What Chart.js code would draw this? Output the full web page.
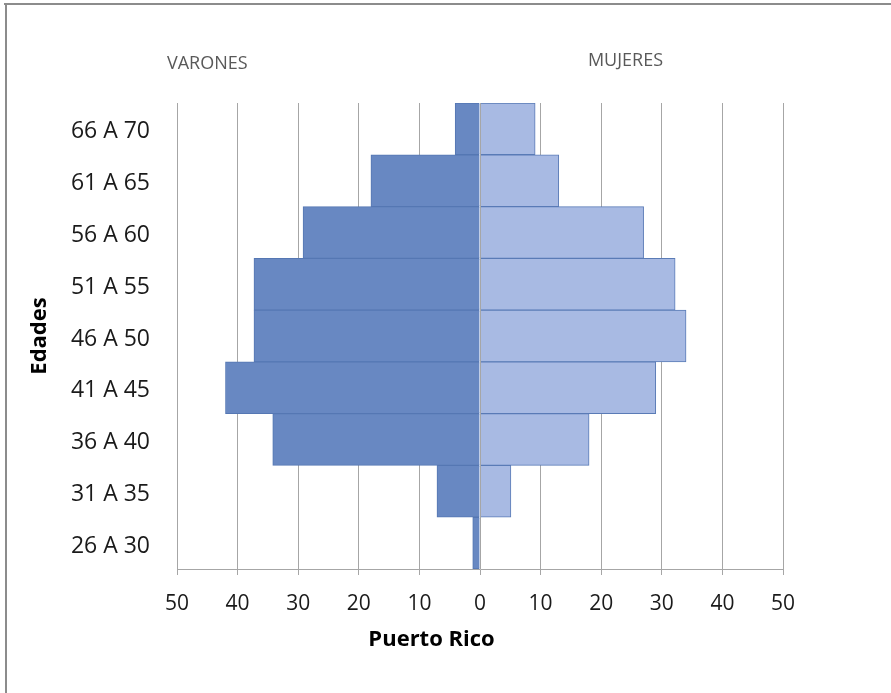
<!DOCTYPE html>
<html>
<head>
<meta charset="utf-8">
<script src="https://cdn.jsdelivr.net/npm/chart.js@4.4.1/dist/chart.umd.min.js"></script>
<style>
  html, body { margin: 0; padding: 0; background: #fff; }
  #wrap { width: 891px; height: 693px; }
</style>
</head>
<body>
<div id="wrap"><canvas id="pyramidChart" width="891" height="693"></canvas></div>
<script>
// age groups, top to bottom
var ageLabels = ["66 A 70", "61 A 65", "56 A 60", "51 A 55", "46 A 50", "41 A 45", "36 A 40", "31 A 35", "26 A 30"];
// varones (drawn to the left, stored as positive counts)
var maleData = [4.1, 18, 29.2, 37.3, 37.3, 42, 34.2, 7.1, 1.2];
// mujeres
var femaleData = [9.1, 13, 27, 32.2, 34, 29, 18, 5.1, 0];
var xTicks = [-50, -40, -30, -20, -10, 0, 10, 20, 30, 40, 50];

var fontFamily = "'Open Sans', 'DejaVu Sans', sans-serif";
var gridColor = '#a6a6a6';

var extrasPlugin = {
    id: 'extras',
    beforeDraw: function(chart) {
        var ctx = chart.ctx;
        ctx.save();
        ctx.fillStyle = '#fff';
        ctx.fillRect(0, 0, chart.width, chart.height);
        // frame (only top/left visible in the original crop)
        ctx.fillStyle = '#8c8c8c';
        ctx.fillRect(4, 3, chart.width - 4, 2);
        ctx.fillRect(5, 3, 2, chart.height - 3);
        ctx.restore();
    },
    afterDatasetsDraw: function(chart) {
        var ctx = chart.ctx;
        var area = chart.chartArea;
        var x0 = chart.scales.x.getPixelForValue(0);
        ctx.save();
        // vertical axis line at zero sits on top of the bars
        ctx.strokeStyle = gridColor;
        ctx.lineWidth = 1;
        ctx.beginPath();
        ctx.moveTo(Math.round(x0) + 0.5, area.top);
        ctx.lineTo(Math.round(x0) + 0.5, area.bottom);
        ctx.stroke();

        ctx.fillStyle = '#595959';
        ctx.font = '18px ' + fontFamily;
        ctx.textAlign = 'center';
        ctx.textBaseline = 'middle';
        var w = area.right - area.left;
        ctx.fillText('VARONES', area.left + w * 0.05, 64);
        ctx.fillText('MUJERES', area.left + w * 0.74, 61);

        ctx.fillStyle = '#000';
        ctx.font = 'bold 22px ' + fontFamily;
        ctx.fillText('Puerto Rico', area.left + w * 0.42, 640);
        ctx.restore();
    }
};

var chartOptions = {
    type: 'bar',
    data: {
        labels: ageLabels,
        datasets: [{
            label: 'VARONES',
            data: maleData.map(function(v) { return -v; }),
            backgroundColor: '#6888c2',
            borderColor: '#5577b3',
            borderWidth: 1,
            barPercentage: 1,
            categoryPercentage: 1
        }, {
            label: 'MUJERES',
            data: femaleData,
            backgroundColor: '#a8bae3',
            borderColor: '#5a7bb6',
            borderWidth: 1,
            barPercentage: 1,
            categoryPercentage: 1
        }]
    },
    options: {
        indexAxis: 'y',
        responsive: false,
        animation: false,
        layout: {
            padding: { top: 103, right: 108, bottom: 0, left: 0 }
        },
        plugins: {
            legend: { display: false },
            tooltip: { enabled: false }
        },
        scales: {
            x: {
                stacked: true,
                min: -50,
                max: 50,
                afterBuildTicks: function(scale) {
                    scale.ticks = xTicks.map(function(v) { return { value: v }; });
                },
                afterFit: function(scale) { scale.height = 124; },
                grid: {
                    color: gridColor,
                    tickColor: gridColor,
                    tickLength: 6,
                    drawOnChartArea: true
                },
                border: { display: true, color: gridColor },
                ticks: {
                    padding: 16,
                    color: '#1a1a1a',
                    font: { family: fontFamily, size: 21 },
                    callback: function(v) { return Math.abs(v); }
                },
                title: { display: false }
            },
            y: {
                stacked: true,
                afterFit: function(scale) { scale.width = 177; },
                grid: { display: false },
                border: { display: true, color: gridColor },
                ticks: {
                    padding: 19,
                    labelOffset: 3,
                    color: '#1a1a1a',
                    font: { family: fontFamily, size: 23 }
                },
                title: {
                    display: true,
                    text: 'Edades',
                    color: '#000',
                    font: { family: fontFamily, size: 22, weight: 'bold' },
                    padding: { top: 27, bottom: 0 }
                }
            }
        }
    },
    plugins: [extrasPlugin]
};

var canvas = document.getElementById("pyramidChart");
var chart = new Chart(canvas, chartOptions);
</script>
</body>
</html>
